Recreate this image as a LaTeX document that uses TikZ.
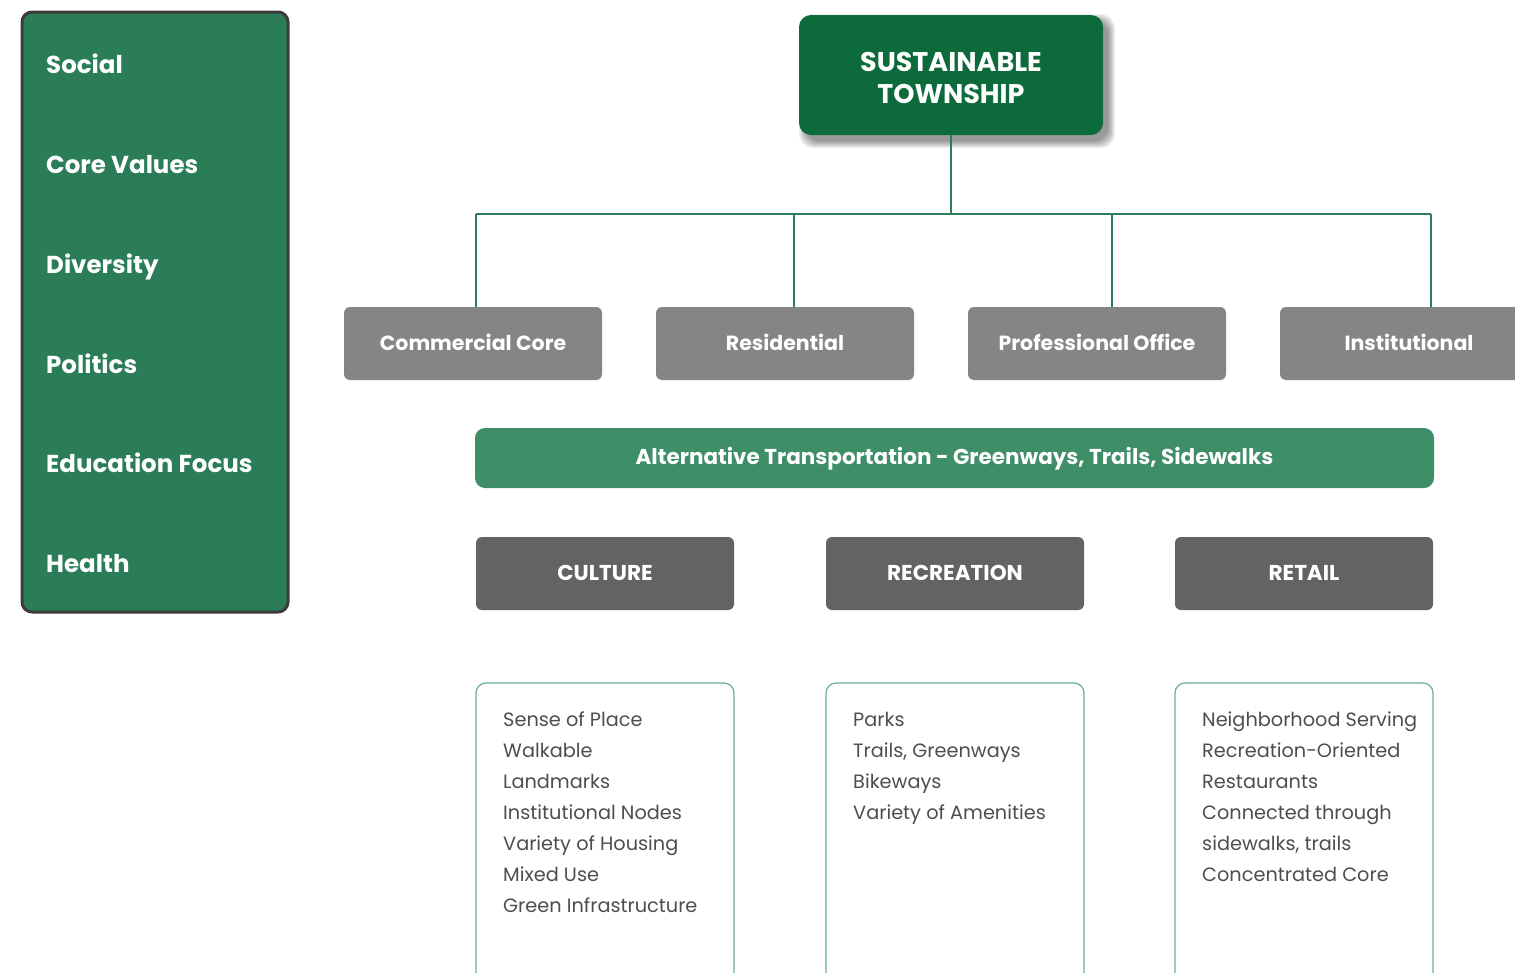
\documentclass[tikz,border=0pt]{standalone}
\usepackage{fontspec}
\setmainfont{Poppins}
\definecolor{panelgreen}{HTML}{2A7D57}
\definecolor{panelborder}{HTML}{3C3C3C}
\definecolor{topgreen}{HTML}{0D6B3B}
\definecolor{conngreen}{HTML}{2D7D5A}
\definecolor{midgray}{HTML}{858585}
\definecolor{bargreen}{HTML}{3E8E68}
\definecolor{darkgray}{HTML}{636365}
\definecolor{outlinegreen}{HTML}{6AAE98}
\definecolor{listtext}{HTML}{4E4E4E}
\tikzset{
  paneltext/.style={anchor=base west, text=white, inner sep=0pt, font=\fontsize{24.5}{28}\selectfont\bfseries},
  catbox/.style={rectangle, rounded corners=6pt, fill=midgray, minimum width=258pt, minimum height=73pt,
     text=white, text height=1.3em, text depth=0pt, font=\fontsize{20.5}{24}\selectfont\bfseries},
  themebox/.style={rectangle, rounded corners=6pt, fill=darkgray, minimum width=258pt, minimum height=73pt,
     text=white, text height=1.3em, text depth=0pt, font=\fontsize{21.5}{24}\selectfont\bfseries},
  listbox/.style={rectangle, rounded corners=10pt, draw=outlinegreen, line width=1.2pt, fill=white,
     minimum width=258pt, minimum height=320pt},
  listtxt/.style={anchor=north west, inner sep=0pt, align=left, text=listtext,
     font=\fontsize{19.3}{31}\selectfont},
  conn/.style={draw=conngreen, line width=2pt},
  softshadow/.style={fill=black, opacity=0.06, rounded corners=14pt},
}
\begin{document}
\begin{tikzpicture}[x=1pt,y=-1pt]
\useasboundingbox (0,0) rectangle (1515,972);
\clip (0,0) rectangle (1515,972);
\fill[white] (0,0) rectangle (1515,972);

% left panel
\node[rectangle, rounded corners=10pt, draw=panelborder, line width=3pt, fill=panelgreen,
      minimum width=266pt, minimum height=600pt] (panel) at (155,312) {};
\node[paneltext] (p1) at (46,73) {Social};
\node[paneltext] (p2) at (46,173) {Core Values};
\node[paneltext] (p3) at (46,273) {Diversity};
\node[paneltext] (p4) at (46,373) {Politics};
\node[paneltext] (p5) at (46,472) {Education Focus};
\node[paneltext] (p6) at (46,572) {Health};

% soft shadow of top box
\foreach \d in {0,1,2,3,4,5,6,7}{
  \fill[softshadow] (806-\d,21-\d) rectangle (1108+\d,141+\d);
}
% top box
\node[rectangle, rounded corners=12pt, fill=topgreen, minimum width=304pt, minimum height=120pt] (top) at (951,75) {};
\node[text=white, align=center, font=\fontsize{27}{32}\selectfont\bfseries] (toptxt) at (951,77.5)
      {SUSTAINABLE\\TOWNSHIP};

% category boxes
\node[catbox] (cc) at (473,343.5) {Commercial Core};
\node[catbox] (res) at (785,343.5) {Residential};
\node[catbox] (po) at (1097,343.5) {Professional Office};
\node[catbox] (inst) at (1409,343.5) {Institutional};

% connectors
\coordinate (b1) at (476,214);
\coordinate (b2) at (794,214);
\coordinate (b3) at (1112,214);
\coordinate (b4) at (1431,214);
\draw[conn] (top.south) -- (top.south |- b1);
\draw[conn] (b1) -- (b4);
\draw[conn] (b1) -- (b1 |- cc.north);
\draw[conn] (b2) -- (b2 |- res.north);
\draw[conn] (b3) -- (b3 |- po.north);
\draw[conn] (b4) -- (b4 |- inst.north);

% transportation bar
\node[rectangle, rounded corners=10pt, fill=bargreen, minimum width=959pt, minimum height=60pt,
      text=white, text height=1.3em, text depth=0pt, font=\fontsize{21.5}{24}\selectfont\bfseries] (bar) at (954.5,458)
      {Alternative Transportation - Greenways, Trails, Sidewalks};

% theme boxes
\node[themebox] (cul) at (605,573.5) {CULTURE};
\node[themebox] (rec) at (955,573.5) {RECREATION};
\node[themebox] (ret) at (1304,573.5) {RETAIL};

% list boxes
\node[listbox] (lcul) at (605,843) {};
\node[listbox] (lrec) at (955,843) {};
\node[listbox] (lret) at (1304,843) {};

\node[listtxt] (tcul) at (503,712) {Sense of Place\\Walkable\\Landmarks\\Institutional Nodes\\Variety of Housing\\Mixed Use\\Green Infrastructure};
\node[listtxt] (trec) at (853,712) {Parks\\Trails, Greenways\\Bikeways\\Variety of Amenities};
\node[listtxt] (tret) at (1202,712) {Neighborhood Serving\\Recreation-Oriented\\Restaurants\\Connected through\\sidewalks, trails\\Concentrated Core};
\end{tikzpicture}
\end{document}
